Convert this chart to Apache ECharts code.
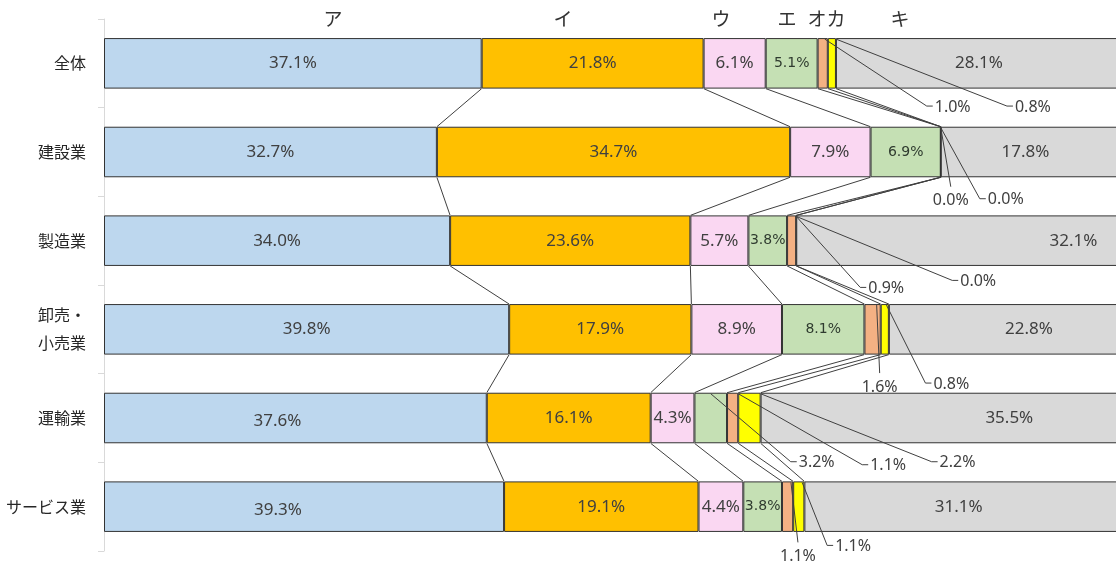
<!DOCTYPE html>
<html>
<head>
<meta charset="utf-8">
<script src="https://cdn.jsdelivr.net/npm/echarts@6/dist/echarts.min.js"></script>
<style>
html,body{margin:0;padding:0;background:#fff;}
#c{width:1116px;height:563px;}
</style>
</head>
<body>
<div id="c"></div>
<script>
// ---- data ----
var categories = ['全体', '建設業', '製造業', '卸売・\n小売業', '運輸業', 'サービス業'];
var seriesNames = ['ア', 'イ', 'ウ', 'エ', 'オ', 'カ', 'キ'];
var valA = [37.1, 32.7, 34.0, 39.8, 37.6, 39.3];
var valI = [21.8, 34.7, 23.6, 17.9, 16.1, 19.1];
var valU = [6.1, 7.9, 5.7, 8.9, 4.3, 4.4];
var valE = [5.1, 6.9, 3.8, 8.1, 3.2, 3.8];
var valO = [1.0, 0.0, 0.9, 1.6, 1.1, 1.1];
var valKa = [0.8, 0.0, 0.0, 0.8, 2.2, 1.1];
var valKi = [28.1, 17.8, 32.1, 22.8, 35.5, 31.1];

// ---- styles / layout (not data) ----
var colors = ['#BDD7EE', '#FFC000', '#FAD7F2', '#C5E0B4', '#F4B183', '#FFFF00', '#D9D9D9'];
var headerX = [333, 563, 721, 787, 817, 836, 900];
var BAR_RATIO = 0.57;
// label shifts for inside labels: [cat, series, dx, dy]
var labelShift = [[1, 6, -6, 0], [2, 6, 114, 0], [3, 6, 24, 0], [4, 0, -18, 3], [4, 6, 68, 0], [5, 0, -26, 3], [5, 6, -4, 0]];
// callouts: [cat, series, startFrac, dx, dy, mode]
var callouts = [
  [0, 4, 0.7, 102, 68, 'side'],
  [0, 5, 1.0, 171, 68, 'side'],
  [1, 4, 0, 10, 60, 'below'],
  [1, 5, 0, 39, 72, 'side'],
  [2, 4, 1.0, 64, 72, 'side'],
  [2, 5, 0, 156, 65, 'side'],
  [3, 4, 0.75, 3, 69, 'below'],
  [3, 5, 0.7, 39, 79, 'side'],
  [4, 3, 0.5, 80, 69, 'side'],
  [4, 4, 1.0, 124, 72, 'side'],
  [4, 5, 1.0, 171, 69, 'side'],
  [5, 4, 0.8, 7, 61, 'below'],
  [5, 5, 0.8, 25, 64, 'side']
];

var allVals = [valA, valI, valU, valE, valO, valKa, valKi];

function isCallout(c, s) {
  for (var k = 0; k < callouts.length; k++) if (callouts[k][0] === c && callouts[k][1] === s) return true;
  return false;
}
function shiftOf(c, s) {
  for (var k = 0; k < labelShift.length; k++) if (labelShift[k][0] === c && labelShift[k][1] === s) return [labelShift[k][2], labelShift[k][3]];
  return [0, 0];
}
function cumStart(c, s) {
  var t = 0;
  for (var j = 0; j < s; j++) t += allVals[j][c];
  return t;
}

var fontMain = '"Noto Sans", "Noto Sans CJK JP", sans-serif';

var series = seriesNames.map(function (name, s) {
  return {
    name: name,
    type: 'bar',
    stack: 'total',
    barWidth: (BAR_RATIO * 100) + '%',
    itemStyle: { color: colors[s], borderColor: '#333333', borderWidth: 1 },
    label: {
      show: true,
      position: 'inside',
      color: s === 3 ? '#2F3B2F' : '#404040',
      fontSize: s === 3 ? 14 : 17,
      fontFamily: s === 3 ? '"DejaVu Sans", sans-serif' : fontMain,
      formatter: function (p) { return p.value.toFixed(1) + '%'; }
    },
    data: allVals[s].map(function (v, c) {
      return {
        value: v,
        label: { show: !isCallout(c, s), offset: shiftOf(c, s) }
      };
    }),
    z: 2
  };
});

series.push({
  type: 'custom',
  coordinateSystem: 'cartesian2d',
  silent: true,
  z: 5,
  encode: { x: 0, y: 1 },
  data: categories.map(function (c, i) { return [0, i]; }),
  renderItem: function (params, api) {
    var i = params.dataIndex;
    var band = api.size([0, 1])[1];
    var h = band * BAR_RATIO / 2;
    var children = [];
    if (i < categories.length - 1) {
      for (var s = 1; s <= 6; s++) {
        var a = api.coord([cumStart(i, s), i]);
        var b = api.coord([cumStart(i + 1, s), i + 1]);
        children.push({
          type: 'line',
          shape: { x1: a[0], y1: a[1] + h, x2: b[0], y2: b[1] - h },
          style: { stroke: '#404040', lineWidth: 1 }
        });
      }
    }
    callouts.forEach(function (co) {
      if (co[0] !== i) return;
      var s = co[1];
      var v = allVals[s][i];
      var st = api.coord([cumStart(i, s) + co[2] * v, i]);
      var x0 = st[0], y0 = st[1] - h + 1;
      var x1 = x0 + co[3], y1 = y0 + co[4] - 1;
      var txt = v.toFixed(1) + '%';
      if (co[5] === 'side') {
        children.push({
          type: 'polyline',
          shape: { points: [[x0, y0], [x1, y1], [x1 + 6, y1]] },
          style: { stroke: '#404040', lineWidth: 1, fill: null }
        });
        children.push({
          type: 'text',
          style: { text: txt, x: x1 + 8, y: y1 + 1, align: 'left', verticalAlign: 'middle', fill: '#404040', fontSize: 16, fontFamily: fontMain }
        });
      } else {
        children.push({
          type: 'line',
          shape: { x1: x0, y1: y0, x2: x1, y2: y1 },
          style: { stroke: '#404040', lineWidth: 1 }
        });
        children.push({
          type: 'text',
          style: { text: txt, x: x1, y: y1 + 6, align: 'center', verticalAlign: 'top', fill: '#404040', fontSize: 16, fontFamily: fontMain }
        });
      }
    });
    return { type: 'group', children: children };
  }
});

var chart = echarts.init(document.getElementById('c'));
chart.setOption({
  animation: false,
  backgroundColor: '#fff',
  grid: { left: 104, top: 19, width: 1018, height: 532, containLabel: false, outerBoundsMode: 'none' },
  xAxis: { type: 'value', min: 0, max: 100, show: false },
  yAxis: {
    type: 'category',
    inverse: true,
    data: categories,
    axisLine: { show: true, lineStyle: { color: '#D9D9D9' } },
    axisTick: { show: true, length: 6, lineStyle: { color: '#D9D9D9' } },
    axisLabel: { fontSize: 16, color: '#262626', margin: 18, lineHeight: 28, fontFamily: '"Noto Sans CJK JP", sans-serif' },
    splitLine: { show: false }
  },
  graphic: seriesNames.map(function (n, k) {
    return {
      type: 'text',
      x: headerX[k],
      y: 19,
      style: { text: n, align: 'center', verticalAlign: 'middle', fontSize: 19, fill: '#333', fontFamily: '"Noto Sans CJK JP", sans-serif' }
    };
  }),
  series: series
});
</script>
</body>
</html>
